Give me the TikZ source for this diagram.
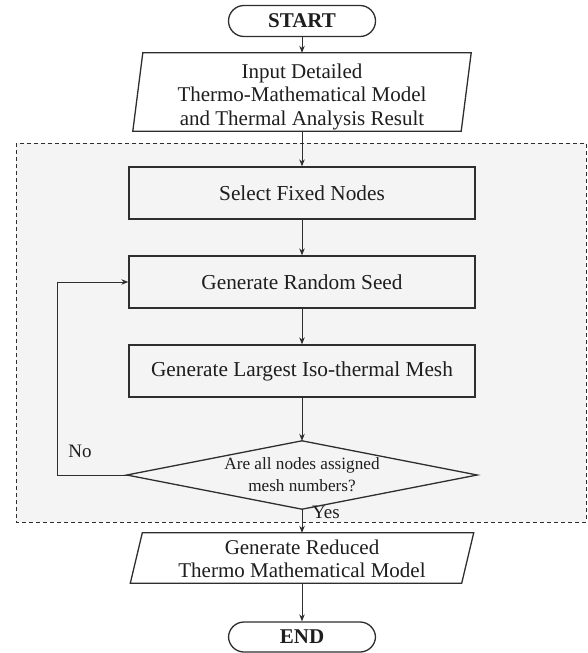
\documentclass[tikz,border=0pt]{standalone}
\usepackage{fontspec}
\setmainfont{Liberation Serif}
\usetikzlibrary{arrows.meta}
\definecolor{ln}{HTML}{2E2E2E}
\definecolor{bg}{HTML}{F4F4F4}
\definecolor{tx}{HTML}{1E1E1E}
\begin{document}
\begin{tikzpicture}[x=1pt,y=-1pt,
  every node/.style={text=tx},
  term/.style={draw=ln, line width=1.3pt, fill=white, rounded corners=15.5pt,
    minimum width=147pt, minimum height=31pt, inner sep=0pt,
    font=\fontsize{21}{24}\selectfont\bfseries},
  procbox/.style={draw=ln, line width=1.3pt, fill=bg, minimum width=346pt,
    minimum height=52pt, inner sep=0pt, font=\fontsize{21.3}{24}\selectfont},
  iobox/.style={minimum width=#1, inner sep=0pt, align=center,
    font=\fontsize{21}{23.5}\selectfont},
  decbox/.style={minimum width=350pt, minimum height=68pt, inner sep=0pt,
    align=center, font=\fontsize{17.2}{22}\selectfont},
  shapeline/.style={draw=ln, line width=1.3pt},
  conn/.style={draw=ln, line width=0.9pt, -{Stealth[length=7pt,width=5.5pt]}},
  lbl/.style={font=\fontsize{19}{22}\selectfont, inner sep=0pt},
]
\useasboundingbox (0,0) rectangle (587,653);
% dashed region
\draw[draw=ln, fill=bg, line width=1pt, dash pattern=on 4pt off 3pt] (16,143) rectangle (586,522);

% start
\node[term] (start) at (302,21) {START};
% input parallelogram
\node[iobox=328pt, minimum height=78pt] (input) at (302,92) {};
\draw[shapeline, fill=white] ([xshift=5pt]input.north west) -- ([xshift=5pt]input.north east)
  -- ([xshift=-5pt]input.south east) -- ([xshift=-5pt]input.south west) -- cycle;
\node[iobox=328pt] at (302,96.5)
  {Input Detailed\\Thermo-Mathematical Model\\and Thermal Analysis Result};

% process boxes
\node[procbox] (sel) at (302,193) {Select Fixed Nodes};
\node[procbox] (seed) at (302,282) {Generate Random Seed};
\node[procbox] (mesh) at (302,371) {Generate Largest Iso-thermal Mesh};

% decision
\node[decbox] (dec) at (302,475) {};
\draw[shapeline, fill=bg] (dec.north) -- (dec.east) -- (dec.south) -- (dec.west) -- cycle;
\node[decbox] at (302,475) {Are all nodes assigned\\mesh numbers?};

% reduced parallelogram
\node[iobox=331pt, minimum height=50pt] (red) at (302,558) {};
\draw[shapeline, fill=white] ([xshift=6pt]red.north west) -- ([xshift=6pt]red.north east)
  -- ([xshift=-6pt]red.south east) -- ([xshift=-6pt]red.south west) -- cycle;
\node[iobox=331pt] at (302,559)
  {Generate Reduced\\Thermo Mathematical Model};

% end
\node[term, minimum height=30pt] (end) at (302,637) {END};

% connectors
\draw[conn] (start) -- (input);
\draw[conn] (input) -- (sel);
\draw[conn] (sel) -- (seed);
\draw[conn] (seed) -- (mesh);
\draw[conn] (mesh) -- (dec.north);
\draw[conn] (dec.south) -- (red);
\draw[conn] (red) -- (end);
\coordinate (loop) at (57,475);
\draw[conn] (dec.west) -- (loop) |- (seed.west);

% labels
\node[lbl] (no) at (80,451) {No};
\node[lbl] (yes) at (326,512) {Yes};
\end{tikzpicture}
\end{document}
